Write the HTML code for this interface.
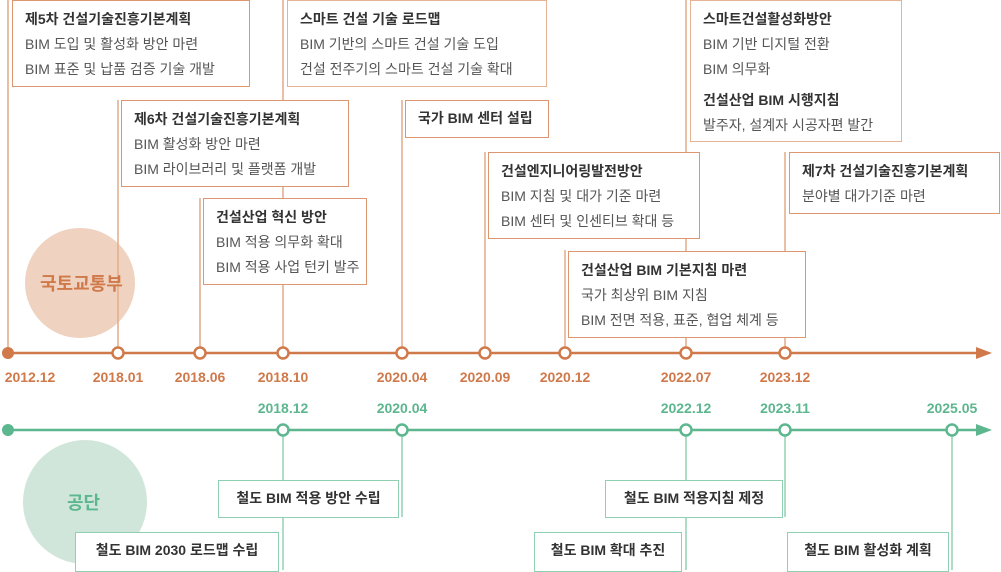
<!DOCTYPE html>
<html><head><meta charset="utf-8"><style>
body{margin:0;width:1001px;height:570px;background:#fff;position:relative;overflow:hidden;font-family:"Liberation Sans","Noto Sans CJK KR",sans-serif}
.b{position:absolute;background:#fff;border:1.5px solid #dc9670;box-sizing:border-box;padding:6px 0 0 12px;font-size:14px;color:#555;line-height:25px;white-space:nowrap}
.b.l{border-color:#e6b394}
.b b{color:#333;font-weight:bold}
.g{position:absolute;background:#fff;border:1.5px solid #8fcfb2;box-sizing:border-box;font-size:14px;color:#333;font-weight:bold;text-align:center;line-height:34px;white-space:nowrap}
.d{position:absolute;font-size:14px;font-weight:bold;transform:translateX(-50%);white-space:nowrap}
.o{color:#d0794a}.gr{color:#5cb68e}
</style></head><body>
<svg width="1001" height="570" style="position:absolute;left:0;top:0">
<circle cx="80" cy="283" r="55" fill="#efd2bf"/>
<circle cx="85" cy="502" r="62" fill="#d1e6da"/>
<g stroke="#e2ac8a" stroke-width="1.5">
<line x1="8" y1="0" x2="8" y2="353"/><line x1="283" y1="0" x2="283" y2="353"/>
<line x1="118" y1="100" x2="118" y2="353"/><line x1="200" y1="198" x2="200" y2="353"/>
<line x1="402" y1="100" x2="402" y2="353"/><line x1="485" y1="152" x2="485" y2="353"/>
<line x1="565" y1="250" x2="565" y2="353"/><line x1="686" y1="0" x2="686" y2="353"/>
<line x1="785" y1="152" x2="785" y2="353"/>
</g>
<g stroke="#93d0b4" stroke-width="1.5">
<line x1="283" y1="430" x2="283" y2="570"/><line x1="402" y1="430" x2="402" y2="517"/>
<line x1="686" y1="430" x2="686" y2="570"/><line x1="785" y1="430" x2="785" y2="517"/>
<line x1="952" y1="430" x2="952" y2="570"/>
</g>
<line x1="8" y1="353" x2="978" y2="353" stroke="#d0794a" stroke-width="2.5"/>
<polygon points="976,347 992,353 976,359" fill="#d0794a"/>
<line x1="8" y1="430" x2="978" y2="430" stroke="#5cb68e" stroke-width="2.5"/>
<polygon points="976,424 992,430 976,436" fill="#5cb68e"/>
<circle cx="8" cy="353" r="6" fill="#d0794a"/>
<g fill="#fff" stroke="#d0794a" stroke-width="2.5">
<circle cx="118" cy="353" r="5.5"/><circle cx="200" cy="353" r="5.5"/><circle cx="283" cy="353" r="5.5"/>
<circle cx="402" cy="353" r="5.5"/><circle cx="485" cy="353" r="5.5"/><circle cx="565" cy="353" r="5.5"/>
<circle cx="686" cy="353" r="5.5"/><circle cx="785" cy="353" r="5.5"/>
</g>
<circle cx="8" cy="430" r="6" fill="#5cb68e"/>
<g fill="#fff" stroke="#5cb68e" stroke-width="2.5">
<circle cx="283" cy="430" r="5.5"/><circle cx="402" cy="430" r="5.5"/><circle cx="686" cy="430" r="5.5"/>
<circle cx="785" cy="430" r="5.5"/><circle cx="952" cy="430" r="5.5"/>
</g>
</svg>
<div style="position:absolute;left:40px;top:270px;font-size:18px;font-weight:bold;color:#d0794a">국토교통부</div>
<div style="position:absolute;left:67px;top:489px;font-size:18px;font-weight:bold;color:#5cb68e">공단</div>

<div class="b" style="left:12px;top:0;width:238px;height:87px"><b>제5차 건설기술진흥기본계획</b><br>BIM 도입 및 활성화 방안 마련<br>BIM 표준 및 납품 검증 기술 개발</div>
<div class="b l" style="left:287px;top:0;width:260px;height:87px"><b>스마트 건설 기술 로드맵</b><br>BIM 기반의 스마트 건설 기술 도입<br>건설 전주기의 스마트 건설 기술 확대</div>
<div class="b" style="left:121px;top:100px;width:228px;height:87px"><b>제6차 건설기술진흥기본계획</b><br>BIM 활성화 방안 마련<br>BIM 라이브러리 및 플랫폼 개발</div>
<div class="b" style="left:203px;top:198px;width:164px;height:87px"><b>건설산업 혁신 방안</b><br>BIM 적용 의무화 확대<br>BIM 적용 사업 턴키 발주</div>
<div class="b" style="left:405px;top:100px;width:144px;height:38px;padding-top:5px"><b>국가 BIM 센터 설립</b></div>
<div class="b" style="left:488px;top:152px;width:212px;height:87px"><b>건설엔지니어링발전방안</b><br>BIM 지침 및 대가 기준 마련<br>BIM 센터 및 인센티브 확대 등</div>
<div class="b" style="left:568px;top:251px;width:238px;height:87px"><b>건설산업 BIM 기본지침 마련</b><br>국가 최상위 BIM 지침<br>BIM 전면 적용, 표준, 협업 체계 등</div>
<div class="b l" style="left:690px;top:0;width:212px;height:142px"><b>스마트건설활성화방안</b><br>BIM 기반 디지털 전환<br>BIM 의무화<div style="height:6px"></div><b>건설산업 BIM 시행지침</b><br>발주자, 설계자 시공자편 발간</div>
<div class="b" style="left:789px;top:152px;width:211px;height:62px"><b>제7차 건설기술진흥기본계획</b><br>분야별 대가기준 마련</div>

<div class="d o" style="left:30px;top:369px">2012.12</div>
<div class="d o" style="left:118px;top:369px">2018.01</div>
<div class="d o" style="left:200px;top:369px">2018.06</div>
<div class="d o" style="left:283px;top:369px">2018.10</div>
<div class="d o" style="left:402px;top:369px">2020.04</div>
<div class="d o" style="left:485px;top:369px">2020.09</div>
<div class="d o" style="left:565px;top:369px">2020.12</div>
<div class="d o" style="left:686px;top:369px">2022.07</div>
<div class="d o" style="left:785px;top:369px">2023.12</div>

<div class="d gr" style="left:283px;top:400px">2018.12</div>
<div class="d gr" style="left:402px;top:400px">2020.04</div>
<div class="d gr" style="left:686px;top:400px">2022.12</div>
<div class="d gr" style="left:785px;top:400px">2023.11</div>
<div class="d gr" style="left:952px;top:400px">2025.05</div>

<div class="g" style="left:218px;top:480px;width:181px;height:38px">철도 BIM 적용 방안 수립</div>
<div class="g" style="left:75px;top:532px;width:204px;height:40px">철도 BIM 2030 로드맵 수립</div>
<div class="g" style="left:605px;top:480px;width:178px;height:38px">철도 BIM 적용지침 제정</div>
<div class="g" style="left:534px;top:532px;width:148px;height:40px">철도 BIM 확대 추진</div>
<div class="g" style="left:787px;top:532px;width:162px;height:40px">철도 BIM 활성화 계획</div>
</body></html>
